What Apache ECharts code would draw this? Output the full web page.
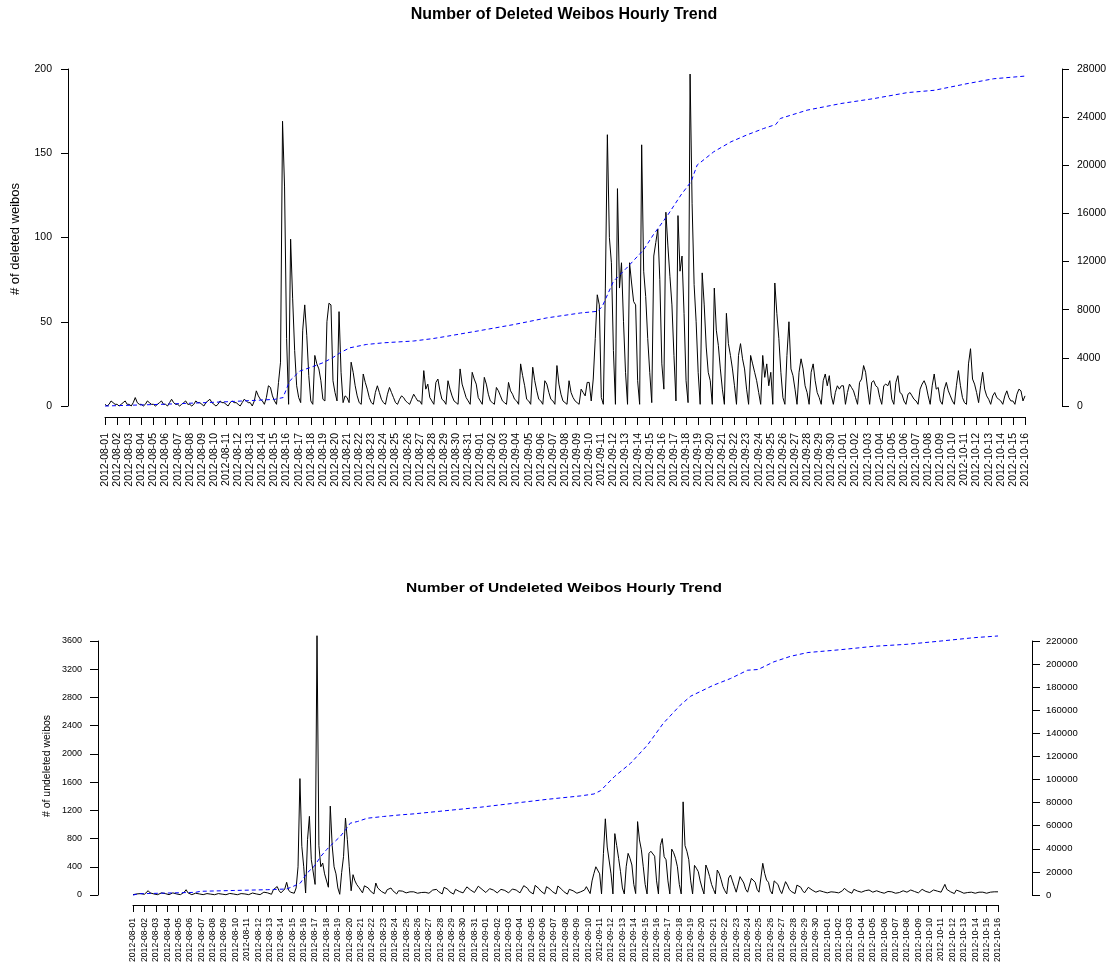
<!DOCTYPE html>
<html>
<head>
<meta charset="utf-8">
<title>Weibos Hourly Trend</title>
<script src="https://cdn.jsdelivr.net/npm/echarts@6/dist/echarts.min.js"></script>
<style>
  html, body { margin: 0; padding: 0; background: #fff; }
  #main { width: 1110px; height: 967px; }
</style>
</head>
<body>
<div id="main"></div>
<script>
// tick labels, one per day (ticks at 00:00)
var dates = [
  '2012-08-01','2012-08-02','2012-08-03','2012-08-04','2012-08-05','2012-08-06','2012-08-07','2012-08-08',
  '2012-08-09','2012-08-10','2012-08-11','2012-08-12','2012-08-13','2012-08-14','2012-08-15','2012-08-16',
  '2012-08-17','2012-08-18','2012-08-19','2012-08-20','2012-08-21','2012-08-22','2012-08-23','2012-08-24',
  '2012-08-25','2012-08-26','2012-08-27','2012-08-28','2012-08-29','2012-08-30','2012-08-31',
  '2012-09-01','2012-09-02','2012-09-03','2012-09-04','2012-09-05','2012-09-06','2012-09-07','2012-09-08',
  '2012-09-09','2012-09-10','2012-09-11','2012-09-12','2012-09-13','2012-09-14','2012-09-15','2012-09-16',
  '2012-09-17','2012-09-18','2012-09-19','2012-09-20','2012-09-21','2012-09-22','2012-09-23','2012-09-24',
  '2012-09-25','2012-09-26','2012-09-27','2012-09-28','2012-09-29','2012-09-30',
  '2012-10-01','2012-10-02','2012-10-03','2012-10-04','2012-10-05','2012-10-06','2012-10-07','2012-10-08',
  '2012-10-09','2012-10-10','2012-10-11','2012-10-12','2012-10-13','2012-10-14','2012-10-15','2012-10-16'
];

// deleted weibos per hour, sampled at 00,04,08,12,16,20h of each day
var delAug = [
  [1,0,1,3,2,1],[1,0,1,2,3,1],[1,0,2,5,2,1],[1,0,1,3,2,1],[1,0,1,2,3,1],[1,0,2,4,2,1],
  [1,0,1,2,3,1],[1,0,1,3,2,2],[1,0,2,3,4,2],[1,0,1,3,2,2],[1,0,2,3,2,2],[1,0,2,4,3,2],
  [2,0,3,9,6,4],[3,1,5,12,11,6],[3,1,14,26,169,130],[40,1,99,64,33,12],[5,2,45,60,42,18],
  [3,1,30,25,22,15],[4,3,50,61,60,15],[8,3,56,20,2,6],[5,2,26,20,12,6],[2,1,19,14,10,5],
  [2,1,8,12,8,4],[2,1,7,11,8,5],[2,1,4,6,5,3],[2,1,4,7,5,3],[3,1,21,10,13,5],
  [3,1,14,16,9,4],[3,1,15,10,6,3],[2,1,22,13,9,5],[3,1,20,16,13,5]
];
var delSep = [
  [3,1,17,13,7,3],[2,1,11,9,6,3],[2,1,14,9,7,4],[3,1,25,18,12,4],[3,1,23,15,9,4],
  [3,1,15,13,8,4],[3,1,24,13,7,3],[2,1,15,8,5,3],[2,1,10,8,6,14],[14,3,16,40,66,60],
  [5,1,70,161,100,85],[33,1,129,70,85,50],[20,1,85,73,62,60],[15,1,155,80,65,40],
  [20,2,89,97,105,75],[25,10,115,95,77,60],[30,3,113,80,89,55],[15,2,197,120,72,50],
  [20,1,79,60,35,20],[15,1,70,45,36,22],[10,1,55,37,30,22],[12,1,30,37,28,22],
  [10,1,30,25,20,15],[8,1,30,17,25,12],[20,1,73,55,40,20],[5,1,30,50,22,18],
  [10,1,20,28,22,12],[8,1,20,25,15,8],[5,1,15,19,12,18],[6,1,8,12,10,12]
];
var delOct = [
  [12,1,8,13,11,9],[5,1,14,16,24,20],[10,1,14,15,12,11],[5,1,12,13,12,15],[4,1,14,18,8,7],
  [3,1,7,8,6,4],[3,1,10,13,15,12],[6,1,12,19,10,11],[3,1,10,14,9,6],[3,1,12,21,12,5],
  [2,1,25,34,16,13],[8,2,12,20,10,6],[4,1,6,8,5,4],[3,1,6,9,5,3],[3,1,7,10,9,3]
];
var delLast = 6;

// cumulative deleted (hour since 08-01 00:00, total)
var cumDelHours  = [0,120,240,336,353,366,386,406,432,451,466,485,518,552,612,650,679,744,811,876,943,977,986,
                    1008,1034,1068,1087,1116,1142,1162,1174,1207,1241,1272,1306,1330,1339,1392,1459,1524,1591,1644,1709,1762,1824];
var cumDelValues = [0,150,350,550,700,2070,2900,3180,3590,4000,4420,4830,5110,5250,5400,5600,5800,6270,6770,7320,7730,7870,8285,
                    10355,11460,12980,14220,15880,17540,18640,20020,21125,21950,22510,23060,23390,23890,24580,25130,25540,26040,26230,26780,27190,27410];

// undeleted weibos per hour, same sampling
var undAug = [
  [5,3,15,25,20,15],[10,5,61,30,25,15],[10,5,20,30,28,20],[12,5,20,30,25,15],[10,5,25,40,75,30],
  [12,5,20,25,20,15],[10,5,15,20,20,12],[8,4,15,20,18,12],[8,4,15,22,20,14],[8,4,15,20,25,15],
  [10,5,20,28,25,15],[10,5,30,40,52,30],[20,10,75,60,120,60],[30,15,85,180,70,40],
  [40,25,100,400,1650,690],[400,28,784,1115,500,520],[150,3675,700,400,453,300],
  [300,110,1260,700,400,300],[100,10,320,548,1090,784],[400,60,288,200,146,110],
  [90,30,130,146,100,60],[40,15,170,100,80,50],[30,20,75,90,99,60],[40,15,60,70,55,40],
  [30,12,45,50,45,35],[25,10,35,40,38,30],[25,10,70,90,80,50],[40,15,109,90,80,45],
  [30,12,80,60,50,40],[30,12,115,90,70,50],[35,15,125,100,80,55]
];
var undSep = [
  [35,15,90,85,70,45],[30,12,80,75,65,40],[30,12,85,90,70,45],[30,12,132,110,95,50],
  [35,15,137,110,90,55],[35,15,118,100,80,50],[35,15,128,100,80,50],[30,12,80,70,60,40],
  [25,10,45,50,70,118],[118,20,200,307,400,420],[300,15,590,1080,680,680],[300,15,870,700,520,330],
  [100,15,400,590,520,425],[150,20,1040,780,640,400],[150,15,590,620,640,550],[200,15,700,800,543,500],
  [200,15,650,600,520,400],[150,15,1320,700,620,500],[200,15,420,380,331,200],[100,15,425,354,260,150],
  [80,15,354,307,220,120],[60,15,240,283,200,120],[40,15,260,236,170,80],[40,15,236,260,180,80],
  [40,15,449,307,212,180],[60,15,200,227,150,70],[20,15,189,142,80,50],[30,20,140,165,110,60],
  [30,20,109,90,70,50],[40,25,61,55,45,35]
];
var undOct = [
  [30,20,45,50,40,35],[30,20,60,94,70,50],[40,25,80,70,55,45],[40,25,61,55,71,45],[40,15,60,55,40,30],
  [25,15,50,61,45,30],[25,15,35,45,60,45],[40,20,71,60,50,40],[30,20,80,70,50,40],[35,20,71,60,55,50],
  [40,20,151,80,55,45],[35,20,70,94,50,35],[25,12,35,45,40,30],[25,15,40,47,40,30],[25,15,40,50,45,50]
];
var undLast = 45;

// cumulative undeleted
var cumUndHours  = [0,14,132,142,211,283,324,338,353,367,382,396,408,422,437,451,458,473,494,528,564,593,662,732,804,874,943,972,986,
                    1015,1049,1085,1118,1154,1176,1224,1260,1296,1318,1351,1387,1423,1493,1562,1634,1704,1774,1824];
var cumUndValues = [0,1100,2300,3200,3900,4600,5200,7500,10400,19000,24800,33400,39200,44900,50700,57900,62200,63600,66500,68000,69400,70300,73150,76000,79500,82900,85800,87500,90400,
                    102500,114000,129900,148600,164400,172200,181700,187500,194700,195300,201900,206800,210000,212500,215400,217200,220000,222900,224350];

var FONT = '"Liberation Sans", Arial, Helvetica, sans-serif';
var STEP = 4; // hours between samples

function hourly(rows, last) {
  var out = [];
  rows.forEach(function (r, d) {
    r.forEach(function (v, i) { out.push([d * 24 + i * STEP, v]); });
  });
  out.push([rows.length * 24, last]);
  return out;
}
function zip(xs, ys) {
  return xs.map(function (x, i) { return [x, ys[i]]; });
}

var deleted = hourly(delAug.concat(delSep, delOct), delLast);
var undeleted = hourly(undAug.concat(undSep, undOct), undLast);
var maxHour = (dates.length - 1) * 24;

function xAxisOf(grid, offset, fontSize, margin, tickLen) {
  return {
    type: 'value', gridIndex: grid, position: 'bottom', offset: offset,
    min: 0, max: maxHour, interval: 24,
    axisLine: { show: true, onZero: false, lineStyle: { color: '#000', width: 1 } },
    axisTick: { show: true, length: tickLen, lineStyle: { color: '#000' } },
    splitLine: { show: false },
    axisLabel: {
      rotate: 90, margin: margin, fontSize: fontSize, fontFamily: FONT, color: '#000',
      showMinLabel: true, showMaxLabel: true,
      formatter: function (v) { return dates[Math.round(v / 24)]; }
    }
  };
}
function yAxisOf(grid, pos, offset, max, interval, fontSize, margin, tickLen) {
  return {
    type: 'value', gridIndex: grid, position: pos, offset: offset,
    min: 0, max: max, interval: interval,
    axisLine: { show: true, onZero: false, lineStyle: { color: '#000', width: 1 } },
    axisTick: { show: true, length: tickLen, lineStyle: { color: '#000' } },
    splitLine: { show: false },
    axisLabel: {
      margin: margin, fontSize: fontSize, fontFamily: FONT, color: '#000',
      formatter: function (v) { return String(v); }
    }
  };
}
function countLine(xi, yi, data) {
  return {
    type: 'line', xAxisIndex: xi, yAxisIndex: yi, data: data,
    symbol: 'none', clip: false, z: 2,
    lineStyle: { color: '#000', width: 1 }
  };
}
function cumLine(xi, yi, data) {
  return {
    type: 'line', xAxisIndex: xi, yAxisIndex: yi, data: data,
    symbol: 'none', clip: false, z: 3,
    lineStyle: { color: '#0000ff', width: 1, type: [4, 3] }
  };
}

var chart = echarts.init(document.getElementById('main'), null, { renderer: 'canvas' });
chart.setOption({
  animation: false,
  backgroundColor: '#fff',
  grid: [
    { left: 105, top: 69, width: 920, height: 337, outerBoundsMode: 'none' },
    { left: 133, top: 641, width: 865, height: 254, outerBoundsMode: 'none' }
  ],
  xAxis: [
    xAxisOf(0, 11, 10.5, 16, 8),
    xAxisOf(1, 10, 8.6, 13, 7)
  ],
  yAxis: [
    yAxisOf(0, 'left', 37, 200, 50, 10.5, 16, 7),
    yAxisOf(0, 'right', 37, 28000, 4000, 10.5, 15, 7),
    yAxisOf(1, 'left', 35, 3600, 400, 9, 16, 8),
    yAxisOf(1, 'right', 34, 220000, 20000, 9.5, 14, 8)
  ],
  series: [
    countLine(0, 0, deleted),
    cumLine(0, 1, zip(cumDelHours, cumDelValues)),
    countLine(1, 2, undeleted),
    cumLine(1, 3, zip(cumUndHours, cumUndValues))
  ],
  graphic: [
    { type: 'text', x: 564, y: 15, style: { text: 'Number of Deleted Weibos Hourly Trend',
      font: 'bold 16px ' + FONT, fill: '#000', align: 'center', verticalAlign: 'middle' } },
    { type: 'text', x: 564, y: 589, scaleX: 1.24, style: { text: 'Number of Undeleted Weibos Hourly Trend',
      font: 'bold 12.5px ' + FONT, fill: '#000', align: 'center', verticalAlign: 'middle' } },
    { type: 'text', x: 15, y: 239, rotation: Math.PI / 2, style: { text: '# of deleted weibos',
      font: '13px ' + FONT, fill: '#000', align: 'center', verticalAlign: 'middle' } },
    { type: 'text', x: 47, y: 766, rotation: Math.PI / 2, style: { text: '# of undeleted weibos',
      font: '10.5px ' + FONT, fill: '#000', align: 'center', verticalAlign: 'middle' } }
  ]
});
</script>
</body>
</html>
